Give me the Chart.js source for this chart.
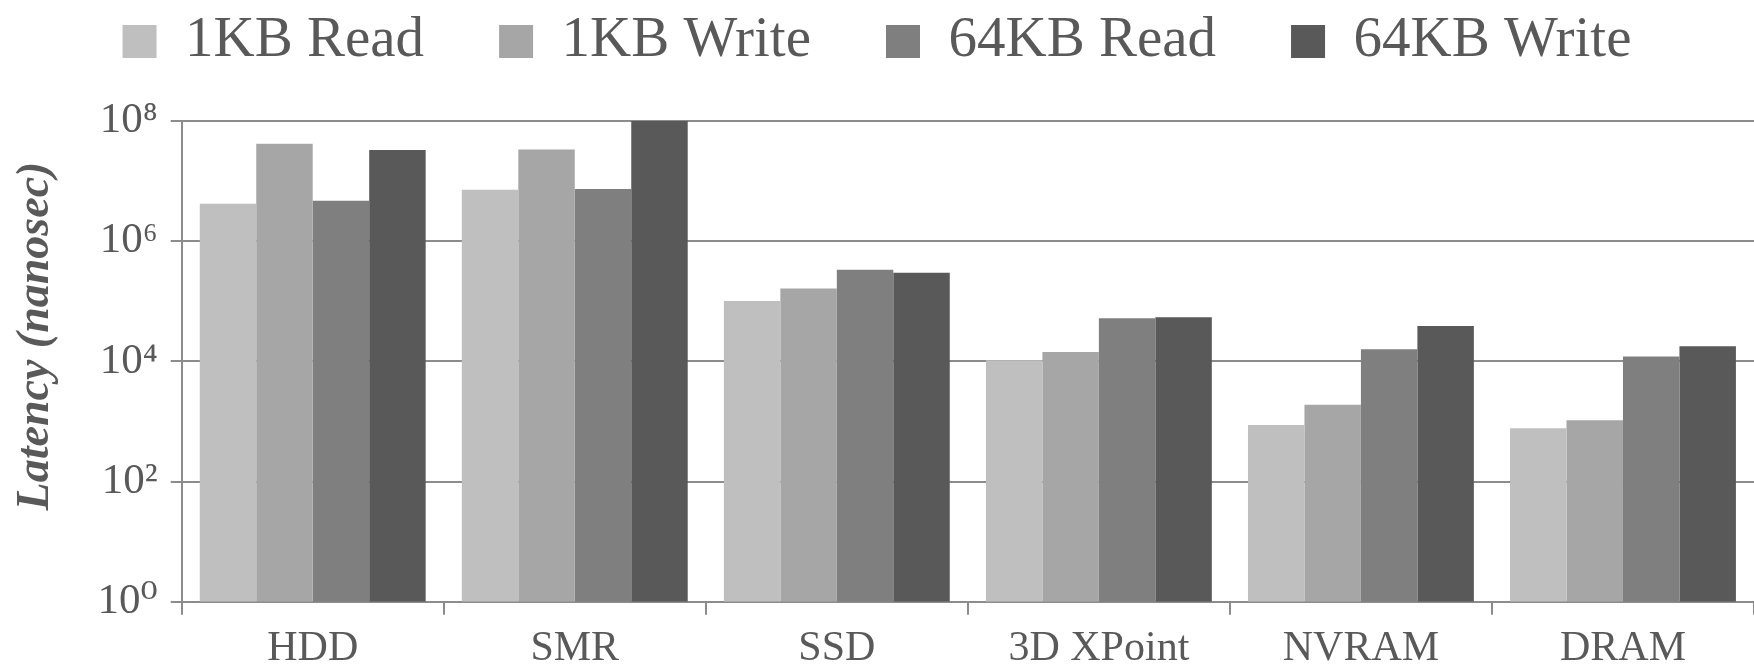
<!DOCTYPE html>
<html>
<head>
<meta charset="utf-8">
<script src="https://cdn.jsdelivr.net/npm/chart.js@4.4.0/dist/chart.umd.min.js"></script>
<style>
html, body { margin: 0; padding: 0; background: #ffffff; }
#wrap { width: 1754px; height: 665px; }
</style>
</head>
<body>
<div id="wrap"><canvas id="c" width="1754" height="665"></canvas></div>
<script>
// ---- data ----
const categories = ['HDD', 'SMR', 'SSD', '3D XPoint', 'NVRAM', 'DRAM'];
const seriesNames = ['1KB Read', '1KB Write', '64KB Read', '64KB Write'];
const read1KB   = [4.2e6, 7.2e6, 1.01e5, 1.04e4, 870,    770];
const write1KB  = [4.2e7, 3.35e7, 1.63e5, 1.43e4, 1.9e3,  1.05e3];
const read64KB  = [4.7e6, 7.4e6, 3.35e5, 5.2e4,  1.59e4, 1.21e4];
const write64KB = [3.3e7, 1.0e8, 2.98e5, 5.4e4,  3.86e4, 1.78e4];
const tickValues = [1, 1e2, 1e4, 1e6, 1e8];
const tickLabels = ['10⁰', '10²', '10⁴', '10⁶', '10⁸'];
const yTitle = 'Latency (nanosec)';

const colors = ['#bfbfbf', '#a6a6a6', '#7f7f7f', '#595959'];
const textColor = '#595959';
const lineColor = '#8c8c8c';
const serif = "'Liberation Serif', 'DejaVu Serif', serif";

const seriesValues = [read1KB, write1KB, read64KB, write64KB];

const legendFitPlugin = {
  id: 'legendFit',
  beforeInit(chart) {
    const origFit = chart.legend.fit;
    chart.legend.fit = function () {
      origFit.call(this);
      this.height = 183;
    };
  }
};

const yTitlePlugin = {
  id: 'yTitle',
  afterDraw(chart) {
    const ctx = chart.ctx;
    ctx.save();
    ctx.translate(36, 336);
    ctx.rotate(-Math.PI / 2);
    ctx.font = "italic bold 46px " + serif;
    ctx.fillStyle = textColor;
    ctx.textAlign = 'center';
    ctx.textBaseline = 'middle';
    ctx.fillText(yTitle, 0, 0);
    ctx.restore();
  }
};

new Chart(document.getElementById('c'), {
  type: 'bar',
  data: {
    labels: categories,
    datasets: seriesNames.map((name, i) => ({
      label: name,
      data: seriesValues[i],
      backgroundColor: colors[i],
      borderWidth: 0,
      barPercentage: 1.0,
      categoryPercentage: 0.862
    }))
  },
  options: {
    responsive: false,
    animation: false,
    devicePixelRatio: 1,
    layout: { padding: { top: -62, left: 0, right: 0, bottom: 0 } },
    plugins: {
      legend: {
        position: 'top',
        align: 'center',
        labels: {
          boxWidth: 34,
          boxHeight: 33,
          padding: 75,
          color: textColor,
          font: { family: serif, size: 57 }
        }
      },
      tooltip: { enabled: false },
      title: { display: false }
    },
    scales: {
      x: {
        grid: {
          display: true,
          drawOnChartArea: false,
          drawTicks: true,
          tickLength: 13,
          color: lineColor,
          lineWidth: 2,
          offset: true
        },
        border: { display: true, color: lineColor, width: 2 },
        ticks: {
          color: textColor,
          font: { family: serif, size: 42 },
          padding: 9,
          maxRotation: 0,
          autoSkip: false
        },
        afterFit(scale) { scale.height = 63.3; }
      },
      y: {
        type: 'logarithmic',
        min: 1,
        max: 1e8,
        afterBuildTicks(scale) {
          scale.ticks = tickValues.map(v => ({ value: v, major: false }));
        },
        afterFit(scale) { scale.width = 181.7; },
        grid: {
          color: lineColor,
          lineWidth: 2,
          drawTicks: true,
          tickLength: 11
        },
        border: { display: true, color: lineColor, width: 2 },
        ticks: {
          color: textColor,
          font: { family: serif, size: 43 },
          padding: 13,
          callback(value) {
            const idx = tickValues.indexOf(value);
            return idx >= 0 ? tickLabels[idx] : '';
          }
        },
        title: { display: false }
      }
    }
  },
  plugins: [legendFitPlugin, yTitlePlugin]
});
</script>
</body>
</html>
